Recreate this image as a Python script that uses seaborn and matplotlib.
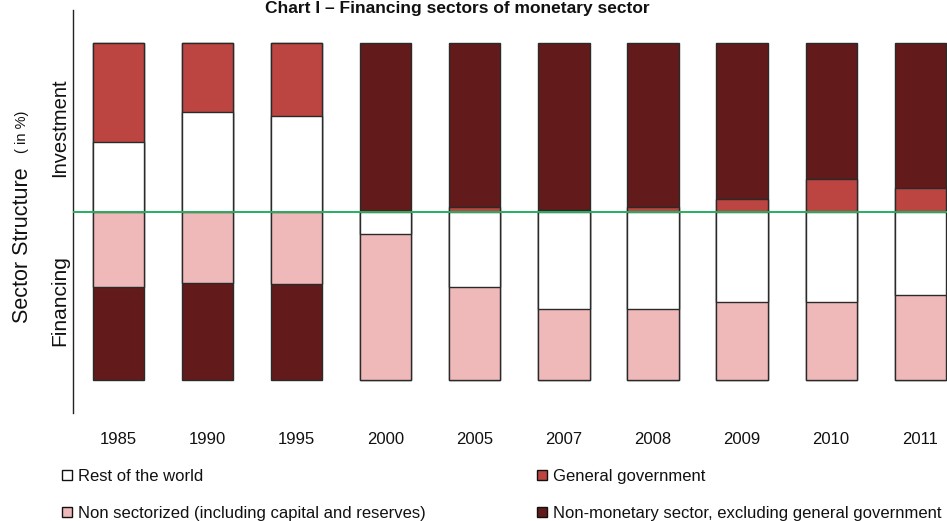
import matplotlib
matplotlib.use("Agg")
import matplotlib.pyplot as plt
from matplotlib.patches import Patch
import seaborn as sns
import pandas as pd
import numpy as np

years = ["1985", "1990", "1995", "2000", "2005", "2007", "2008", "2009", "2010", "2011"]

# Investment side (percent, stacked upward from the midline)
inv_rest_world = [41.2, 58.9, 56.5, 0.0, 0.0, 0.0, 0.0, 0.0, 0.0, 0.0]
inv_general_gov = [58.8, 41.1, 43.5, 0.5, 2.5, 1.0, 2.5, 7.8, 19.1, 13.8]
inv_non_monetary = [0.0, 0.0, 0.0, 99.5, 97.5, 99.0, 97.5, 92.2, 80.9, 86.2]

# Financing side (percent, stacked downward from the midline)
fin_rest_world = [0.0, 0.0, 0.0, 13.4, 44.8, 57.9, 57.9, 53.7, 53.7, 49.6]
fin_non_sectorized = [44.4, 42.0, 42.6, 86.6, 55.2, 42.1, 42.1, 46.3, 46.3, 50.4]
fin_non_monetary = [55.6, 58.0, 57.4, 0.0, 0.0, 0.0, 0.0, 0.0, 0.0, 0.0]

legend_col1 = ["Rest of the world", "Non sectorized (including capital and reserves)"]
legend_col2 = ["General government", "Non-monetary sector, excluding general government"]

C_WHITE = "#FFFFFF"
C_RED = "#BC4541"
C_DARK = "#621A1A"
C_PINK = "#EFB9B9"
EDGE = "#2a2a2a"
FONT = ["Liberation Sans", "DejaVu Sans"]

sns.set_style("white")
plt.rcParams["font.family"] = FONT

fig = plt.figure(figsize=(9.47, 5.21), dpi=100)
ax = fig.add_axes([73 / 947, 108 / 521, 1 - 73 / 947, 403 / 521])

inv_rw = np.array(inv_rest_world)
inv_gg = np.array(inv_general_gov)
inv_nm = np.array(inv_non_monetary)
fin_rw = np.array(fin_rest_world)
fin_ns = np.array(fin_non_sectorized)
fin_nm = np.array(fin_non_monetary)

layers = [
    (inv_rw + inv_gg + inv_nm, C_DARK),
    (inv_rw + inv_gg, C_RED),
    (inv_rw, C_WHITE),
    (-(fin_rw + fin_ns + fin_nm), C_DARK),
    (-(fin_rw + fin_ns), C_PINK),
    (-fin_rw, C_WHITE),
]
for vals, col in layers:
    df = pd.DataFrame({"year": years, "value": vals})
    df = df[np.abs(df["value"]) > 0.01]
    sns.barplot(data=df, x="year", y="value", order=years, color=col, saturation=1,
                width=0.575, edgecolor=EDGE, linewidth=1.0, ax=ax)

ax.axhline(0, color="#27AE60", lw=1.4, zorder=5)

ax.set_xlim(-0.51, 9.3)
ax.set_ylim(-119.3, 119.5)
ax.set_xlabel("")
ax.set_ylabel("")
ax.set_yticks([])
ax.tick_params(axis="x", length=0, pad=13.5, labelsize=12, labelcolor="#111111")
for s in ["top", "right", "bottom"]:
    ax.spines[s].set_visible(False)
ax.spines["left"].set_color("#222222")
ax.spines["left"].set_linewidth(1.0)

# y-axis labels
fig.text(60 / 947, 1 - 127.5 / 521, "Investment", rotation=90, ha="center", va="center",
         fontsize=14.5, color="#111111")
fig.text(60 / 947, 1 - 301 / 521, "Financing", rotation=90, ha="center", va="center",
         fontsize=15, color="#111111")
fig.text(22 / 947, 1 - 245 / 521, "Sector Structure", rotation=90, ha="center", va="center",
         fontsize=15.5, color="#111111")
fig.text(22 / 947, 1 - 132 / 521, "( in %)", rotation=90, ha="center", va="center",
         fontsize=10.5, color="#111111")

# title
fig.text(457 / 947, 1 - 1 / 521, "Chart I \u2013 Financing sectors of monetary sector",
         ha="center", va="top", fontsize=12.5, fontweight="bold", color="#111111")

def col_legend(colors, labels, x_px):
    handles = [Patch(facecolor=c, edgecolor="#111111", linewidth=1.0) for c in colors]
    leg = fig.legend(handles, labels, ncol=1, loc="upper left",
                     bbox_to_anchor=(x_px / 947, 1 - 469 / 521), frameon=False,
                     fontsize=12, handlelength=0.6, handleheight=0.6, handletextpad=0.35,
                     labelspacing=1.3, borderpad=0, borderaxespad=0)
    for t in leg.get_texts():
        t.set_color("#111111")
    return leg

col_legend([C_WHITE, C_PINK], legend_col1, 62)
col_legend([C_RED, C_DARK], legend_col2, 537)

fig.savefig("out.png", dpi=100)
